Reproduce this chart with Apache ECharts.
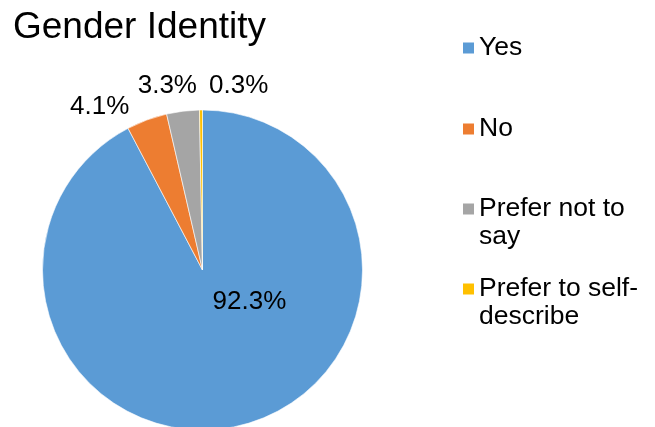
<!DOCTYPE html>
<html>
<head>
<meta charset="utf-8">
<script src="https://cdn.jsdelivr.net/npm/echarts@6/dist/echarts.min.js"></script>
<style>
html,body{margin:0;padding:0;background:#fff;}
#chart{width:655px;height:427px;}
</style>
</head>
<body>
<div id="chart"></div>
<script>
var titleText = 'Gender Identity';
var categories = ['Yes', 'No', 'Prefer not to say', 'Prefer to self-describe'];
var values = [92.3, 4.1, 3.3, 0.3];
var colors = ['#5B9BD5', '#ED7D31', '#A5A5A5', '#FFC000'];
var legendLines = {
  'Prefer not to say': ['Prefer not to', 'say'],
  'Prefer to self-describe': ['Prefer to self-', 'describe']
};

var FONT = '"Liberation Sans", Arial, sans-serif';
var LH = 28;
var legendTops = [34, 115, 167, 247];
// label offsets from the default inside-label position (Excel-style placement)
var labelShift = [[27, -49], [-74, -85], [-25, -102], [37, -101]];

var chart = echarts.init(document.getElementById('chart'), null, {renderer: 'canvas'});

var legends = categories.map(function (name, i) {
  return {
    show: true,
    orient: 'vertical',
    left: 461,
    top: legendTops[i],
    padding: 0,
    itemWidth: 13,
    itemHeight: 13,
    itemGap: 0,
    icon: 'rect',
    selectedMode: false,
    data: [name],
    formatter: function (n) {
      if (legendLines[n]) return '\n' + legendLines[n].join('\n');
      return n;
    },
    textStyle: {fontFamily: FONT, fontSize: 26.5, color: '#000', lineHeight: LH, padding: [0, 0, 0, -1]}
  };
});

chart.setOption({
  animation: false,
  backgroundColor: '#fff',
  color: colors,
  title: {
    text: titleText,
    left: 13,
    top: 9,
    padding: 0,
    textStyle: {fontFamily: FONT, fontSize: 37, fontWeight: 'normal', color: '#000'}
  },
  legend: legends,
  series: [{
    type: 'pie',
    center: [202.5, 270],
    radius: [0, 160],
    startAngle: 90,
    clockwise: true,
    avoidLabelOverlap: false,
    minShowLabelAngle: 0,
    itemStyle: {borderColor: '#fff', borderWidth: 0.6},
    label: {
      show: true,
      position: 'inside',
      formatter: function (p) { return p.value.toFixed(1) + '%'; },
      fontFamily: FONT,
      fontSize: 26,
      color: '#000'
    },
    labelLine: {show: false},
    labelLayout: function (p) {
      var s = labelShift[p.dataIndex];
      return {dx: s[0], dy: s[1]};
    },
    emphasis: {disabled: true},
    data: categories.map(function (c, i) { return {name: c, value: values[i]}; })
  }]
});
</script>
</body>
</html>
